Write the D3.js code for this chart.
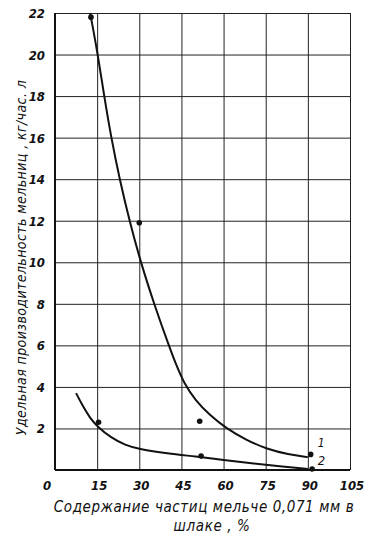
<!DOCTYPE html>
<html>
<head>
<meta charset="utf-8">
<script src="https://cdn.jsdelivr.net/npm/d3@7"></script>
<style>
  body { margin: 0; background: #fff; }
  text { font-family: "DejaVu Sans Condensed", "DejaVu Sans", sans-serif; font-style: italic; fill: #111; }
</style>
</head>
<body>
<svg width="371" height="544"></svg>
<script>
const xTicks = [15, 30, 45, 60, 75, 90, 105]
const yTicks = [2, 4, 6, 8, 10, 12, 14, 16, 18, 20, 22]

// curve 1 (upper)
const curve1 = [
  [12.5, 22], [15, 20.2], [17.5, 18], [20, 16], [23, 14], [26.5, 12], [30.5, 10],
  [35.5, 7.9], [40.5, 6], [43, 5.1], [46, 4.15], [50, 3.35], [55, 2.65], [61, 2],
  [68, 1.45], [75.5, 1.0], [83, 0.75], [90, 0.62]
]
// curve 2 (lower)
const curve2 = [
  [7.5, 3.7], [10, 3.05], [12.5, 2.5], [15, 2.1], [20, 1.55], [25, 1.2], [30, 1.0],
  [40, 0.8], [50, 0.65], [60, 0.48], [70, 0.32], [80, 0.18], [90, 0.05]
]
// measured points
const points = [[12.8, 21.8], [30, 11.9], [15.5, 2.3], [51.5, 2.35], [52, 0.67], [91, 0.75], [91.5, 0.05]]

const yLabel = "Удельная  производительность  мельниц ,  кг/час. л"
const xLabel1 = "Содержание  частиц  мельче  0,071 мм  в"
const xLabel2 = "шлаке , %"

const svg = d3.select("svg")
const x = d3.scaleLinear().domain([0, 105]).range([55, 350])
const y = d3.scaleLinear().domain([0, 22]).range([470, 13])

// grid
svg.append("g")
  .attr("transform", `translate(0,${y(0)})`)
  .call(d3.axisBottom(x).tickValues(xTicks).tickSize(-(y(0) - y(22))).tickFormat(""))
  .call(g => g.select(".domain").remove())
  .selectAll("line").attr("stroke", "#222").attr("stroke-width", 1)

svg.append("g")
  .attr("transform", `translate(${x(0)},0)`)
  .call(d3.axisLeft(y).tickValues(yTicks).tickSize(-(x(105) - x(0))).tickFormat(""))
  .call(g => g.select(".domain").remove())
  .selectAll("line").attr("stroke", "#222").attr("stroke-width", 1)

// axes lines
svg.append("line").attr("x1", x(0)).attr("x2", x(0)).attr("y1", y(22)).attr("y2", y(0))
  .attr("stroke", "#111").attr("stroke-width", 2)
svg.append("line").attr("x1", x(0)).attr("x2", x(105)).attr("y1", y(0)).attr("y2", y(0))
  .attr("stroke", "#111").attr("stroke-width", 2)

// tick labels
svg.append("g").selectAll("text").data(yTicks).join("text")
  .attr("x", x(0) - 10).attr("y", d => y(d) + 5)
  .attr("text-anchor", "end").attr("font-size", 13).attr("font-weight", "bold")
  .text(d => d)

svg.append("g").selectAll("text").data([0].concat(xTicks)).join("text")
  .attr("x", d => d === 0 ? x(0) - 8 : x(d) + 2).attr("y", y(0) + 20)
  .attr("text-anchor", "middle").attr("font-size", 13).attr("font-weight", "bold")
  .text(d => d)

// curves
const line = d3.line().x(d => x(d[0])).y(d => y(d[1])).curve(d3.curveBasis)
svg.append("path").attr("d", line(curve1)).attr("fill", "none").attr("stroke", "#111").attr("stroke-width", 2)
svg.append("path").attr("d", line(curve2)).attr("fill", "none").attr("stroke", "#111").attr("stroke-width", 2)

svg.append("g").selectAll("circle").data(points).join("circle")
  .attr("cx", d => x(d[0])).attr("cy", d => y(d[1])).attr("r", 2.8).attr("fill", "#111")

// curve numbers
svg.append("text").attr("x", x(93.5)).attr("y", y(1.1)).attr("font-size", 12).text("1")
svg.append("text").attr("x", x(93.5)).attr("y", y(0.25)).attr("font-size", 13).text("2")

// axis titles
svg.append("text")
  .attr("transform", `translate(26,${(y(0) + y(22)) / 2 + 16}) rotate(-90)`)
  .attr("text-anchor", "middle").attr("font-size", 14).attr("letter-spacing", 0.4)
  .text(yLabel)

svg.append("text").attr("x", 204).attr("y", 512).attr("text-anchor", "middle").attr("font-size", 15).attr("letter-spacing", 0.6).text(xLabel1)
svg.append("text").attr("x", 212).attr("y", 531).attr("text-anchor", "middle").attr("font-size", 15).attr("letter-spacing", 0.6).text(xLabel2)
</script>
</body>
</html>
